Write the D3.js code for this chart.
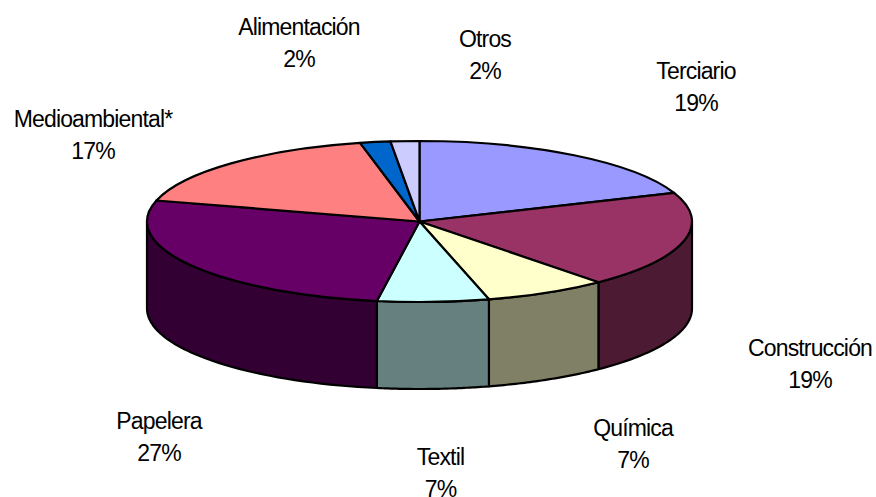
<!DOCTYPE html>
<html>
<head>
<meta charset="utf-8">
<script src="https://cdn.jsdelivr.net/npm/d3@7"></script>
<style>
  html, body { margin: 0; padding: 0; background: #fff; }
  svg { display: block; }
  text { font-family: "Liberation Sans", Arial, sans-serif; font-size: 23px; letter-spacing: -0.85px; fill: #000; text-anchor: middle; }
</style>
</head>
<body>
<svg width="876" height="497"></svg>
<script>
var categories = ['Terciario', 'Construcción', 'Química', 'Textil', 'Papelera', 'Medioambiental*', 'Alimentación', 'Otros'];
var values = [19.2, 19.4, 7.3, 6.6, 26.7, 17.3, 1.8, 1.7];
var colors = ['#9999ff', '#993366', '#ffffcc', '#ccffff', '#660066', '#ff8080', '#0066cc', '#ccccff'];
var labelX = [696, 810, 633, 440.5, 159, 93, 299, 485];
var labelY = [79, 356, 436, 465, 429, 127, 35, 47];

var w = 876,
  h = 497;
var cx = 419.5,
  cy = 221.5,
  rx = 272.5,
  ry = 80.5,
  depth = 87;
var lineGap = 31.5;
var strokeW = 2.2;

var svg = d3.select('svg');

var pie = d3.pie().sort(null);
var slices = pie(values);

// angle is measured clockwise from the top, as d3.pie does
function px(a) { return cx + rx * Math.sin(a); }
function py(a) { return cy - ry * Math.cos(a); }

var line = d3.line()
  .x(function (d) { return d[0]; })
  .y(function (d) { return d[1]; });

function halfColor(c) {
  var r = d3.rgb(c);
  return d3.rgb(r.r / 2, r.g / 2, r.b / 2).formatHex();
}

// side walls, only the part of each slice facing the viewer
function wall(d) {
  var a0 = Math.max(d.startAngle, Math.PI / 2);
  var a1 = Math.min(d.endAngle, Math.PI * 3 / 2);
  if (a0 >= a1) return null;
  var angles = d3.range(0, 41).map(function (k) { return a0 + (a1 - a0) * k / 40; });
  var top = angles.map(function (a) { return [px(a), py(a)]; });
  var bottom = angles.slice().reverse().map(function (a) { return [px(a), py(a) + depth]; });
  return line(top.concat(bottom)) + 'Z';
}

svg.append('g')
  .selectAll('path')
  .data(slices.filter(function (d) { return wall(d); }))
  .enter()
  .append('path')
  .attr('d', wall)
  .attr('fill', function (d) { return halfColor(colors[d.index]); })
  .attr('stroke', '#000')
  .attr('stroke-width', strokeW)
  .attr('stroke-linejoin', 'round');

// top face: a circular arc squashed into the ellipse
var arc = d3.arc().innerRadius(0).outerRadius(rx);

svg.append('g')
  .attr('transform', 'translate(' + cx + ',' + cy + ') scale(1,' + (ry / rx) + ')')
  .selectAll('path')
  .data(slices)
  .enter()
  .append('path')
  .attr('d', arc)
  .attr('fill', function (d) { return colors[d.index]; })
  .attr('stroke', '#000')
  .attr('stroke-width', strokeW)
  .attr('stroke-linejoin', 'round')
  .attr('vector-effect', 'non-scaling-stroke');

var labels = svg.append('g')
  .selectAll('text')
  .data(slices)
  .enter()
  .append('text')
  .attr('x', function (d) { return labelX[d.index]; })
  .attr('y', function (d) { return labelY[d.index]; });

labels.append('tspan')
  .attr('x', function (d) { return labelX[d.index]; })
  .text(function (d) { return categories[d.index]; });

labels.append('tspan')
  .attr('x', function (d) { return labelX[d.index]; })
  .attr('dy', lineGap)
  .text(function (d) { return Math.round(d.value) + '%'; });
</script>
</body>
</html>
